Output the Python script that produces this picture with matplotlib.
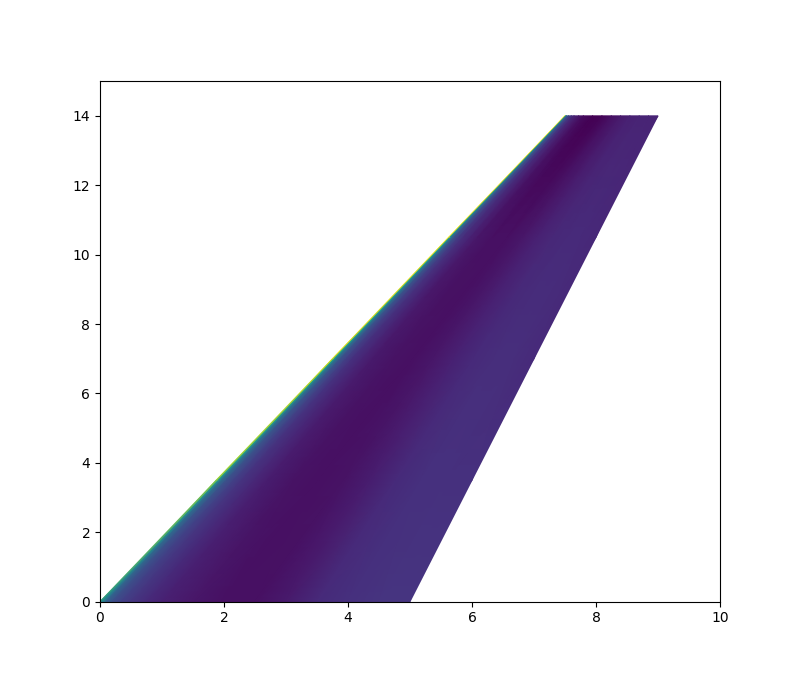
import numpy as np
import matplotlib
matplotlib.use("Agg")
import matplotlib.pyplot as plt

# Wing planform geometry
root_le, root_te = 0.0, 5.0
tip_le, tip_te = 7.5, 9.0
span_stations = [0.0, 3.5, 7.0, 10.5, 14.0]
chord_fractions = [0.0, 0.01, 0.02, 0.04, 0.07, 0.1, 0.15, 0.2, 0.3, 0.4,
                   0.5, 0.6, 0.7, 0.8, 0.9, 1.0]

# Surface values (rows: span stations, columns: chord fractions)
val_y0 = [0.52, 0.42, 0.31, 0.24, 0.19, 0.16, 0.12, 0.09, 0.06, 0.04, 0.04, 0.07, 0.12, 0.14, 0.15, 0.15]
val_y35 = [0.85, 0.50, 0.35, 0.25, 0.19, 0.15, 0.11, 0.08, 0.05, 0.04, 0.05, 0.08, 0.12, 0.14, 0.14, 0.14]
val_y7 = [0.95, 0.55, 0.36, 0.25, 0.18, 0.14, 0.10, 0.07, 0.05, 0.04, 0.06, 0.09, 0.12, 0.13, 0.13, 0.12]
val_y105 = [1.00, 0.55, 0.35, 0.24, 0.17, 0.13, 0.09, 0.06, 0.04, 0.04, 0.06, 0.09, 0.11, 0.12, 0.12, 0.11]
val_y14 = [1.00, 0.50, 0.30, 0.20, 0.14, 0.10, 0.06, 0.03, 0.00, 0.01, 0.04, 0.07, 0.09, 0.10, 0.10, 0.10]

values = np.array([val_y0, val_y35, val_y7, val_y105, val_y14])

y = np.array(span_stations)
c = np.array(chord_fractions)
Y, C = np.meshgrid(y, c, indexing="ij")
t = Y / y[-1]
LE = root_le + (tip_le - root_le) * t
TE = root_te + (tip_te - root_te) * t
X = LE + C * (TE - LE)

fig, ax = plt.subplots(figsize=(8, 6.76), dpi=100)
ax.pcolormesh(X, Y, values, shading="gouraud", cmap="viridis")
ax.set_xlim(0, 10)
ax.set_ylim(0, 15)
ax.set_xticks([0, 2, 4, 6, 8, 10])
ax.set_yticks([0, 2, 4, 6, 8, 10, 12, 14])
fig.savefig("out.png", dpi=100)
